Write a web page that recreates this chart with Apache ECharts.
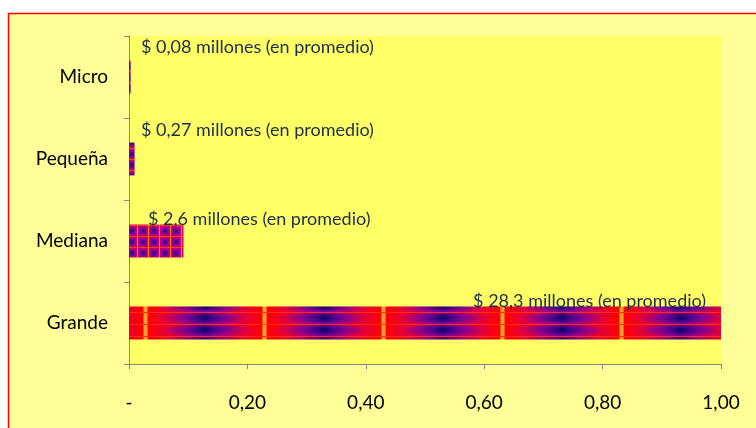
<!DOCTYPE html>
<html><head><meta charset="utf-8">
<script src="https://cdn.jsdelivr.net/npm/echarts@6/dist/echarts.min.js"></script>
<style>html,body{margin:0;padding:0;background:#fff}#c{width:756px;height:428px}</style>
</head><body><div id="c"></div>
<script>
// ---- data ----
const categories = ['Micro', 'Pequeña', 'Mediana', 'Grande'];
const shares = [0.0028, 0.0095, 0.092, 1.0];
const labelTexts = [
  '$ 0,08 millones (en promedio)',
  '$ 0,27 millones (en promedio)',
  '$ 2,6 millones (en promedio)',
  '$ 28,3 millones (en promedio)'
];
const xMin = 0, xMax = 1, xStep = 0.2;

// ---- styling helpers ----
function ramp(stops, k) {
  k = Math.max(0, Math.min(1, k));
  for (let i = 1; i < stops.length; i++) {
    if (k <= stops[i][0]) {
      const a = stops[i - 1], b = stops[i];
      const f = (k - a[0]) / (b[0] - a[0] || 1);
      return [0, 1, 2].map(j => Math.round(a[1][j] + (b[1][j] - a[1][j]) * f));
    }
  }
  return stops[stops.length - 1][1];
}
function makeTile(w, h, fn) {
  const c = document.createElement('canvas');
  c.width = w; c.height = h;
  const ctx = c.getContext('2d');
  const img = ctx.createImageData(w, h);
  for (let y = 0; y < h; y++) for (let x = 0; x < w; x++) {
    const col = fn(x, y);
    const i = (y * w + x) * 4;
    img.data[i] = col[0]; img.data[i + 1] = col[1]; img.data[i + 2] = col[2]; img.data[i + 3] = 255;
  }
  ctx.putImageData(img, 0, 0);
  return c;
}
// wide "fire" pattern for the big bar
const fireStops = [[0, [255, 0, 0]], [0.3, [225, 0, 60]], [0.6, [140, 0, 140]], [0.85, [70, 0, 140]], [1, [15, 0, 105]]];
const bigTile = makeTile(119, 12, (x, y) => {
  if (y === 0) return [255, 45, 20];
  let dx = ((x + 0.5 - 26.5) % 119 + 119) % 119;
  const d = Math.min(dx, 119 - dx);
  if (d < 1.5) return [255, 160, 45];
  if (d < 3) return [255, 90, 15];
  const t = d / 59.5;
  const s = Math.abs(y + 0.5 - 6) / 6;
  let k = Math.max(0, (t - 0.08) / 0.92);
  k = Math.pow(k, 0.9);
  k = k * (1 - 0.4 * s * s);
  return ramp(fireStops, k);
});
// small grid pattern
const gridStops = [[0, [30, 0, 115]], [0.45, [110, 0, 160]], [0.8, [165, 0, 140]], [1, [200, 0, 110]]];
const smallTile = makeTile(11, 11, (x, y) => {
  const cx = ((x - 5) % 11 + 11) % 11, cy = ((y - 5) % 11 + 11) % 11;
  if (cx === 0) return [255, 125, 0];
  if (cy === 0) return [255, 60, 0];
  const r = Math.max(Math.abs(cx - 5.5), Math.abs(cy - 5.5)) / 4.5;
  return ramp(gridStops, r);
});
const patterns = [smallTile, smallTile, smallTile, bigTile];
// label placement relative to each bar
const labelPlace = [
  { position: [12, -13], align: 'left' },
  { position: [12, -12], align: 'left' },
  { position: [19, -5], align: 'left' },
  { position: [577, -5], align: 'right' }
];

const chart = echarts.init(document.getElementById('c'), null, { renderer: 'canvas' });
const FONT = 'Lato, "Open Sans", sans-serif';
chart.setOption({
  animation: false,
  backgroundColor: '#ffffff',
  graphic: [{
    type: 'rect', z: -10, silent: true,
    shape: { x: 8.5, y: 13.5, width: 760, height: 430 },
    style: { fill: '#FFFF99', stroke: '#FF0000', lineWidth: 1.5 }
  }],
  grid: {
    left: 129, right: 35, top: 36, bottom: 64,
    show: true, backgroundColor: '#FFFF66', borderWidth: 0
  },
  xAxis: {
    type: 'value', min: xMin, max: xMax, interval: xStep,
    axisLine: { show: true, lineStyle: { color: '#868686', width: 1 } },
    axisTick: { show: true, length: 5, lineStyle: { color: '#868686' } },
    splitLine: { show: false },
    axisLabel: {
      margin: 29, fontSize: 19, color: '#000', fontFamily: FONT,
      formatter: v => v === 0 ? '-' : v.toFixed(2).replace('.', ',')
    }
  },
  yAxis: {
    type: 'category', data: categories, inverse: true,
    axisLine: { show: true, lineStyle: { color: '#868686', width: 1 } },
    axisTick: { show: true, length: 5, lineStyle: { color: '#868686' } },
    axisLabel: { margin: 21, fontSize: 19, color: '#000', fontFamily: FONT }
  },
  series: [{
    type: 'bar', barWidth: '40%',
    data: shares.map((v, i) => ({
      value: v,
      itemStyle: { color: { image: patterns[i], repeat: 'repeat' } },
      label: {
        show: true, formatter: labelTexts[i],
        position: labelPlace[i].position, align: labelPlace[i].align,
        verticalAlign: 'middle', fontSize: 18, color: '#1F2D4A', fontFamily: FONT
      }
    }))
  }]
});
</script></body></html>
